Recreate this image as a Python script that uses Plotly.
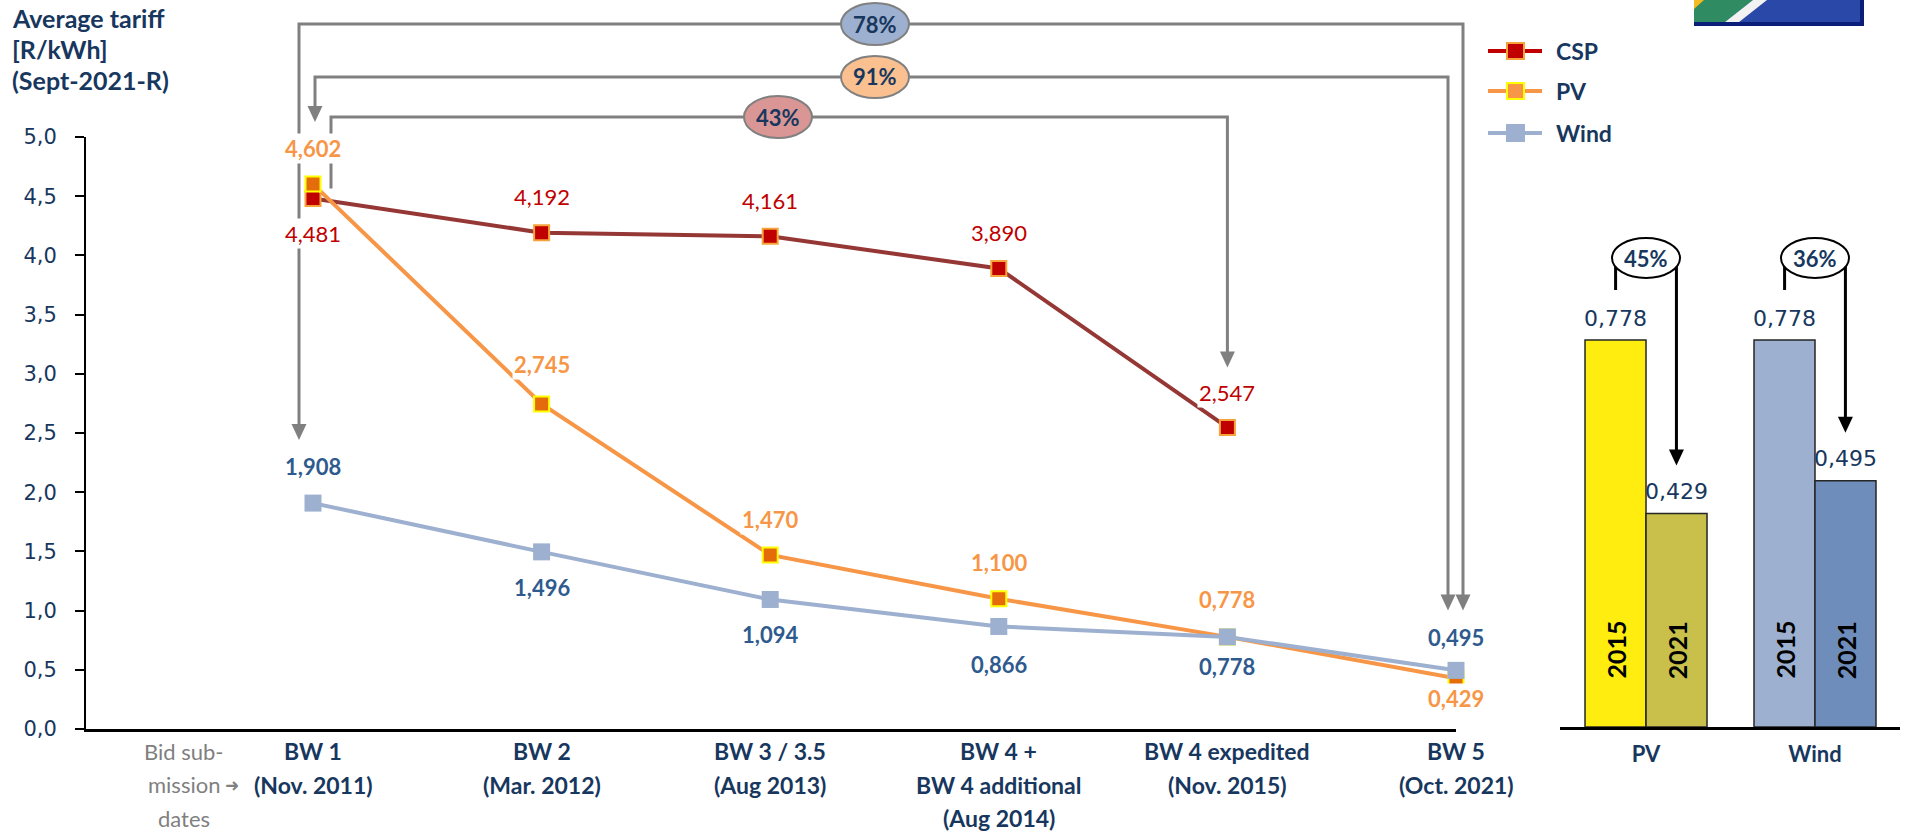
import plotly.graph_objects as go

# ---------------- data ----------------
tick_labels = ["BW 1|(Nov. 2011)", "BW 2|(Mar. 2012)", "BW 3 / 3.5|(Aug 2013)",
               "BW 4 +|BW 4 additional|(Aug 2014)", "BW 4 expedited|(Nov. 2015)", "BW 5|(Oct. 2021)"]
bid_label = ["Bid sub-", "mission", "dates"]
y_ticks = [0, 0.5, 1.0, 1.5, 2.0, 2.5, 3.0, 3.5, 4.0, 4.5, 5.0]

csp = [4.481, 4.192, 4.161, 3.890, 2.547, None]
pv = [4.602, 2.745, 1.470, 1.100, 0.778, 0.429]
wind = [1.908, 1.496, 1.094, 0.866, 0.778, 0.495]
series_names = ["CSP", "PV", "Wind"]
reduction_csp = "43%"
reduction_pv = "91%"
reduction_wind = "78%"

bar_groups = ["PV", "Wind"]
bar_years = ["2015", "2021"]
bar_2015 = [0.778, 0.778]
bar_2021 = [0.429, 0.495]
bar_reductions = ["45%", "36%"]

title_lines = ["Average tariff", "[R/kWh]", "(Sept-2021-R)"]

# ---------------- styles / geometry ----------------
W, H = 1906, 832
NAVY = "#17375E"
GREY = "#808080"
MX0, MX1 = 86, 1456
MY0, MY1 = 729, 137
XR = [-0.993, 5.0]
YR = [0, 5]
BX0, BX1 = 1560, 1900
BXR = [-0.509, 1.503]
BY0, BY1 = 727, 137
BYR = [0, (727 - 137) / 497.4]

def px_x(v):
    return MX0 + (v - XR[0]) / (XR[1] - XR[0]) * (MX1 - MX0)

def px_y(v):
    return MY0 - (v - YR[0]) / (YR[1] - YR[0]) * (MY0 - MY1)

def bx(v):
    return BX0 + (v - BXR[0]) / (BXR[1] - BXR[0]) * (BX1 - BX0)

def by(v):
    return BY0 - (v - BYR[0]) / (BYR[1] - BYR[0]) * (BY0 - BY1)

def PX(p):
    return p / W

def PY(p):
    return 1 - p / H

def fmt(v):
    return f"{v:.3f}".replace(".", ",")

def paper_text(xp, yp, text, font, xanchor="center", **kw):
    d = dict(x=PX(xp), y=PY(yp), xref="paper", yref="paper", text=text, showarrow=False,
             xanchor=xanchor, yanchor="middle", font=font)
    d.update(kw)
    return d

fig = go.Figure()
idx = list(range(len(pv)))

fig.add_trace(go.Scatter(
    x=idx, y=csp, mode="lines+markers", name=series_names[0], cliponaxis=False,
    line=dict(color="#953735", width=4),
    marker=dict(symbol="square", size=15, color="#C00000", line=dict(color="#F5A33A", width=2))))
fig.add_trace(go.Scatter(
    x=idx, y=pv, mode="lines+markers", name=series_names[1], cliponaxis=False,
    line=dict(color="#F79646", width=4),
    marker=dict(symbol="square", size=15, color="#E46C0A", line=dict(color="#FFFF00", width=2))))
fig.add_trace(go.Scatter(
    x=idx, y=wind, mode="lines+markers", name=series_names[2], cliponaxis=False,
    line=dict(color="#9DB0CF", width=4),
    marker=dict(symbol="square", size=17, color="#9DB0CF", line=dict(width=0))))

# bar chart
fig.add_trace(go.Bar(x=[0, 1], y=bar_2015, name=bar_years[0], xaxis="x2", yaxis="y2",
                     marker=dict(color=["#FFED10", "#9DB0CF"], line=dict(color="#262626", width=1.5))))
fig.add_trace(go.Bar(x=[0, 1], y=bar_2021, name=bar_years[1], xaxis="x2", yaxis="y2",
                     marker=dict(color=["#C8C04A", "#6E8DBA"], line=dict(color="#262626", width=1.5))))

ann = []
shapes = []

# data labels
off_csp = [-35, 36, 36, 36, 35, 0]
off_pv = [36, 39, 35, 36, 37, -20]
off_wind = [37, -36, -35, -38, -30, 33]
for vals, offs, color, weight in [(csp, off_csp, "#C00000", "normal"),
                                  (pv, off_pv, "#F79646", "bold"),
                                  (wind, off_wind, "#2E5A8E", "bold")]:
    for i, v in enumerate(vals):
        if v is None:
            continue
        ann.append(dict(x=i, y=v, xref="x", yref="y", text=fmt(v), showarrow=False,
                        xanchor="center", yanchor="middle",
                        yshift=offs[i], bgcolor="white", borderpad=1,
                        font=dict(family="Lato", size=22, color=color, weight=weight)))

# title
for k, t in enumerate(title_lines):
    ann.append(paper_text(10, 18 + 31 * k, t, dict(family="Lato", size=25, color=NAVY, weight="bold"),
                          xanchor="left"))

# x category labels (one annotation per text line, positioned on the x axis scale)
LINE0, LSTEP = 751, 33.5
for i, lab in enumerate(tick_labels):
    for k, line in enumerate(lab.split("|")):
        ann.append(dict(x=i, y=PY(LINE0 + LSTEP * k), xref="x", yref="paper", text=f"<b>{line}</b>",
                        showarrow=False, xanchor="center", yanchor="middle",
                        font=dict(family="Lato", size=23, color=NAVY)))
bid_x = (184 - px_x(0)) / (px_x(1) - px_x(0))
for k, line in enumerate(bid_label):
    ann.append(dict(x=bid_x, y=PY(LINE0 + LSTEP * k), xref="x", yref="paper", text=line,
                    showarrow=False, xanchor="center", yanchor="middle",
                    font=dict(family="Lato", size=22, color="#7F7F7F")))
# bid-submission arrow
ann.append(paper_text(232, LINE0 + LSTEP, "➜", dict(family="DejaVu Sans", size=17, color=GREY)))

# brackets
def vline_path(pts):
    return "M " + " L ".join(f"{PX(a)},{PY(b)}" for a, b in pts)

def arrow_down(xp, tip, w=15, h=16, color=GREY):
    return dict(type="path", xref="paper", yref="paper", layer="above",
                path=f"M {PX(xp - w/2)},{PY(tip - h)} L {PX(xp + w/2)},{PY(tip - h)} L {PX(xp)},{PY(tip)} Z",
                fillcolor=color, line=dict(width=0))

x_first, x_last = px_x(0), px_x(5)
brackets = [
    (x_first + 18, px_y(csp[0]) - 10, 117, px_x(4), px_y(csp[4]) - 60, False, reduction_csp, "#D99694", 778),
    (x_first + 2, px_y(pv[0]) - 62, 77, x_last - 8, px_y(wind[5]) - 60, True, reduction_pv, "#FAC090", 875),
    (x_first - 14, px_y(wind[0]) - 63, 24, x_last + 7, px_y(wind[5]) - 60, True, reduction_wind, "#9DB0CF", 875),
]
for lx, ly, ty, rx, ry, larrow, lab, fill, cx in brackets:
    ly_line = ly - 14 if larrow else ly
    shapes.append(dict(type="path", xref="paper", yref="paper", layer="above",
                       path=vline_path([(lx, ly_line), (lx, ty), (rx, ty), (rx, ry - 14)]),
                       line=dict(color=GREY, width=3)))
    shapes.append(arrow_down(rx, ry))
    if larrow:
        shapes.append(arrow_down(lx, ly))
    shapes.append(dict(type="circle", xref="paper", yref="paper", layer="above",
                       x0=PX(cx - 34), x1=PX(cx + 34), y0=PY(ty + 21), y1=PY(ty - 21),
                       fillcolor=fill, line=dict(color=GREY, width=2)))
    ann.append(paper_text(cx, ty, lab, dict(family="Lato", size=22, color=NAVY, weight="bold")))

# manual legend
leg_y = [51, 91, 133]
leg_styles = [("#C00000", "#C00000", "#F5A33A"), ("#F79646", "#F79646", "#FFFF00"), ("#9DB0CF", "#9DB0CF", "#9DB0CF")]
for name, yy, (lc, fc, bc) in zip(series_names, leg_y, leg_styles):
    shapes.append(dict(type="line", xref="paper", yref="paper", x0=PX(1488), x1=PX(1542),
                       y0=PY(yy), y1=PY(yy), line=dict(color=lc, width=4)))
    shapes.append(dict(type="rect", xref="paper", yref="paper", x0=PX(1507), x1=PX(1524),
                       y0=PY(yy + 8), y1=PY(yy - 8), fillcolor=fc, line=dict(color=bc, width=2)))
    ann.append(paper_text(1554, yy, name, dict(family="Lato", size=23, color=NAVY, weight="bold"),
                          xanchor="left"))

# flag (top right corner)
flag = [
    ([(1694, 0), (1864, 0), (1864, 26), (1694, 26)], "#2A48A8"),
    ([(1694, 0), (1753, 0), (1720, 26), (1694, 26)], "#2E8B62"),
    ([(1753, 0), (1767, 0), (1734, 26), (1720, 26)], "#F2F2F2"),
    ([(1694, 0), (1704, 0), (1694, 9)], "#F5B921"),
]
for pts, col in flag:
    shapes.append(dict(type="path", xref="paper", yref="paper",
                       path="M " + " L ".join(f"{PX(a)},{PY(b)}" for a, b in pts) + " Z",
                       fillcolor=col, line=dict(width=0)))
shapes.append(dict(type="path", xref="paper", yref="paper",
                   path=vline_path([(1862, 0), (1862, 24), (1694, 24)]), line=dict(color="#0B1F7A", width=4)))

# bar chart labels
for g in range(len(bar_groups)):
    for v, off, yr in [(bar_2015[g], -0.18, bar_years[0]), (bar_2021[g], 0.18, bar_years[1])]:
        ann.append(dict(x=g + off, y=v, xref="x2", yref="y2", text=fmt(v), showarrow=False,
                        xanchor="center", yanchor="middle",
                        yshift=22, font=dict(family="DejaVu Sans", size=22, color=NAVY)))
        ann.append(dict(x=g + off, y=0.155, xref="x2", yref="y2", text=yr, showarrow=False,
                        xanchor="center", yanchor="middle",
                        textangle=-90, font=dict(family="Lato", size=25, color="black", weight="bold")))
    x15, x21 = bx(g - 0.18), bx(g + 0.18)
    cx, cy = bx(g), 258
    shapes.append(dict(type="path", xref="paper", yref="paper", layer="above",
                       path=vline_path([(x15, by(bar_2015[g]) - 50), (x15, cy)]),
                       line=dict(color="black", width=3)))
    tip = by(bar_2021[g]) - 48
    shapes.append(dict(type="path", xref="paper", yref="paper", layer="above",
                       path=vline_path([(x21, cy), (x21, tip - 14)]),
                       line=dict(color="black", width=3)))
    shapes.append(arrow_down(x21, tip, color="black"))
    shapes.append(dict(type="circle", xref="paper", yref="paper", layer="above",
                       x0=PX(cx - 34), x1=PX(cx + 34), y0=PY(cy + 20), y1=PY(cy - 20),
                       fillcolor="white", line=dict(color="black", width=2)))
    ann.append(paper_text(cx, cy, bar_reductions[g], dict(family="Lato", size=22, color=NAVY, weight="bold")))

fig.update_layout(
    width=W, height=H, template="none", showlegend=False,
    margin=dict(l=0, r=0, t=0, b=0, pad=0),
    paper_bgcolor="white", plot_bgcolor="rgba(0,0,0,0)",
    separators=",.",
    barmode="group", bargap=0.278, bargroupgap=0,
    xaxis=dict(domain=[PX(MX0), PX(MX1)], range=XR, showgrid=False, zeroline=False,
               showline=True, linecolor="black", linewidth=2.5, ticks="", showticklabels=False,
               automargin=False),
    yaxis=dict(domain=[PY(MY0), PY(MY1)], range=YR, showgrid=False, zeroline=False,
               showline=True, linecolor="black", linewidth=2, ticks="outside", ticklen=9,
               tickwidth=2, tickcolor="black", tickvals=y_ticks, tickformat=".1f",
               ticklabelstandoff=14,
               tickfont=dict(family="DejaVu Sans", size=21, color=NAVY), automargin=False),
    xaxis2=dict(domain=[PX(BX0), PX(BX1)], range=BXR, anchor="y2", showgrid=False, zeroline=False,
                showline=True, linecolor="black", linewidth=2.5, ticks="outside", ticklen=6,
                tickcolor="rgba(0,0,0,0)", tickvals=[0, 1],
                ticktext=[f"<b>{g}</b>" for g in bar_groups],
                tickfont=dict(family="Lato", size=22, color=NAVY), automargin=False),
    yaxis2=dict(domain=[PY(BY0), PY(BY1)], range=BYR, anchor="x2", visible=False),
    annotations=ann, shapes=shapes,
)

fig.write_html("out.html", config={"displayModeBar": False},
               post_script="document.body.style.margin='0';document.body.style.overflow='hidden';")
